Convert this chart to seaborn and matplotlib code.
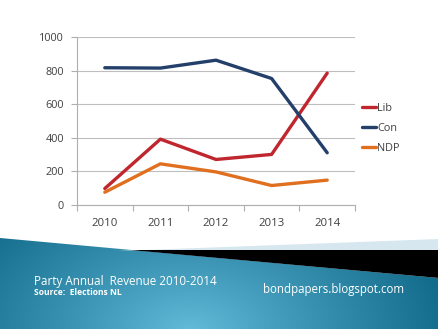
import numpy as np
import pandas as pd
import matplotlib
matplotlib.use("Agg")
import matplotlib.pyplot as plt
from matplotlib.patches import Polygon
import seaborn as sns

years = ["2010", "2011", "2012", "2013", "2014"]
lib = [98, 392, 271, 301, 785]
con = [817, 815, 862, 753, 311]
ndp = [76, 245, 197, 116, 148]
parties = ["Lib", "Con", "NDP"]
colors = ["#C0262E", "#233F6A", "#E0701F"]
yticks = [0, 200, 400, 600, 800, 1000]

df = pd.DataFrame({
    "Year": years * 3,
    "Revenue": lib + con + ndp,
    "Party": [p for p in parties for _ in years],
})

sns.set_theme(style="white")
plt.rcParams["font.family"] = ["Open Sans", "DejaVu Sans"]

W, H = 439, 329
fig = plt.figure(figsize=(W / 100, H / 100), dpi=100)
fig.patch.set_facecolor("white")

# slide background: teal band with black and pale stripes
bg = fig.add_axes([0, 0, 1, 1], zorder=-5)
bg.set_xlim(0, W)
bg.set_ylim(H, 0)
bg.axis("off")
yy, xx = np.mgrid[0:H, 0:W]
d = np.sqrt(((xx - 190) / 1.0) ** 2 + ((yy - 330) * 1.6) ** 2)
t = np.clip(d / 270.0, 0, 1) ** 0.9
c0 = np.array([98, 188, 218]) / 255.0
c1 = np.array([16, 104, 136]) / 255.0
img = c0[None, None, :] * (1 - t[..., None]) + c1[None, None, :] * t[..., None]
im = bg.imshow(img, extent=(0, W, H, 0), aspect="auto", interpolation="bilinear")
teal = Polygon([(0, 238), (W, 278), (W, H), (0, H)], closed=True, transform=bg.transData)
bg.add_patch(teal)
teal.set_visible(False)
im.set_clip_path(teal)
bg.add_patch(Polygon([(118, 251), (W, 239), (W, 251)], closed=True,
                     facecolor="#D6E7EF", edgecolor="none"))
bg.add_patch(Polygon([(130, 250), (W, 250), (W, 278)], closed=True,
                     facecolor="black", edgecolor="none"))

ax = fig.add_axes([77 / W, 1 - 205 / H, (355 - 77) / W, (205 - 37) / H])
ax.set_facecolor("none")
sns.lineplot(data=df, x="Year", y="Revenue", hue="Party", hue_order=parties,
             palette=colors, linewidth=2.4, ax=ax, sort=False)

ax.set_xlim(-0.5, 4.5)
ax.set_ylim(0, 1000)
ax.set_yticks(yticks)
ax.set_yticklabels([str(v) for v in yticks])
ax.set_xlabel("")
ax.set_ylabel("")
ax.grid(axis="y", color="#BEBEBE", linewidth=0.8)
ax.set_axisbelow(True)
for s in ["top", "right"]:
    ax.spines[s].set_visible(False)
for s in ["left", "bottom"]:
    ax.spines[s].set_color("#AFAFAF")
    ax.spines[s].set_linewidth(0.8)
ax.set_xticks(np.arange(-0.5, 5, 1), minor=True)
ax.tick_params(axis="x", which="major", length=0, pad=9.5, labelsize=8.2, labelcolor="#404040")
ax.tick_params(axis="x", which="minor", length=4, width=0.8, color="#AFAFAF", direction="out")
ax.tick_params(axis="y", length=4, width=0.8, color="#AFAFAF", direction="out", pad=5.5,
               labelsize=7.8, labelcolor="#404040")
ax.tick_params(bottom=True, left=True, which="both")

ax.legend(loc="center left", bbox_to_anchor=(1.01, 0.455), frameon=False,
          fontsize=7.8, handlelength=1.3, handletextpad=0.1, labelspacing=0.85,
          borderaxespad=0, labelcolor="#404040")

fig.text(34 / W, 1 - 282 / H, "Party Annual  Revenue 2010-2014", color="white",
         fontsize=8.4, va="center", ha="left")
fig.text(34 / W, 1 - 292.5 / H, "Source:  Elections NL", color="white",
         fontsize=6.1, fontweight="bold", va="center", ha="left")
fig.text(263 / W, 1 - 290 / H, "bondpapers.blogspot.com", color="white",
         fontsize=8.3, va="center", ha="left")

fig.savefig("out.png", dpi=100)
